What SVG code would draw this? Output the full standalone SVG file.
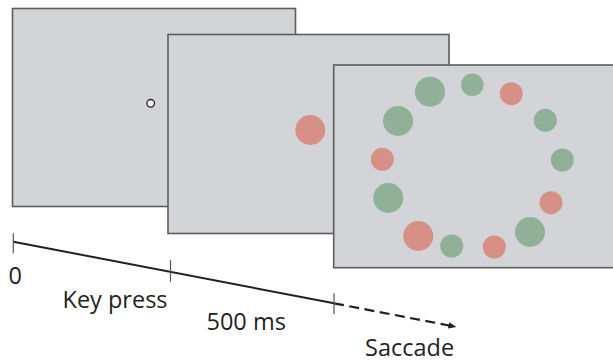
<svg xmlns="http://www.w3.org/2000/svg" width="613" height="362" viewBox="0 0 613 362">
<style>
.screen{fill:#d3d4d8;stroke:#5c5c5c;stroke-width:1.6}
.g{fill:#90b197}
.r{fill:#d79085}
.tick{stroke:#555;stroke-width:1.2;fill:none}
.lbl{font-family:"Open Sans","Liberation Sans",sans-serif;font-size:23.5px;fill:#231f20}
</style>
<defs>
<marker id="ah" markerWidth="8" markerHeight="8" refX="7" refY="4" orient="auto" markerUnits="userSpaceOnUse">
<path d="M0,0.8 L8,4 L0,7.2 Z" fill="#231f20"/>
</marker>
</defs>
<rect width="613" height="362" fill="#fff"/>
<g id="screen1">
<rect class="screen" x="12.5" y="8.5" width="283" height="198"/>
<circle cx="150.7" cy="103.3" r="3.8" fill="#fff" stroke="#231f20" stroke-width="1.3"/>
</g>
<g id="screen2">
<rect class="screen" x="168" y="34.5" width="281" height="199"/>
<circle class="r" cx="310.3" cy="130" r="15"/>
</g>
<g id="screen3">
<rect class="screen" x="333.7" y="65" width="290" height="202.7"/>
<circle class="g" cx="430" cy="91.7" r="15"/>
<circle class="g" cx="472.3" cy="84.7" r="11.3"/>
<circle class="r" cx="511.3" cy="93.7" r="11.5"/>
<circle class="g" cx="545.3" cy="120.3" r="11.5"/>
<circle class="g" cx="562.3" cy="160" r="11.5"/>
<circle class="r" cx="551" cy="202.7" r="11.5"/>
<circle class="g" cx="530" cy="232" r="15"/>
<circle class="r" cx="494.3" cy="247" r="11.5"/>
<circle class="g" cx="451.7" cy="246" r="11.5"/>
<circle class="r" cx="418.3" cy="236" r="15"/>
<circle class="g" cx="388.3" cy="198" r="15"/>
<circle class="r" cx="382.3" cy="159.3" r="11.5"/>
<circle class="g" cx="398" cy="121" r="15"/>
</g>
<g id="connectors">
<line x1="13.3" y1="241.7" x2="334" y2="303.3" stroke="#231f20" stroke-width="2"/>
<line x1="334" y1="303.3" x2="455.4" y2="326.7" stroke="#231f20" stroke-width="2.2" stroke-dasharray="10,5.5" marker-end="url(#ah)"/>
<line class="tick" x1="13.3" y1="233.3" x2="13.3" y2="253.3"/>
<line class="tick" x1="170.5" y1="260" x2="170.5" y2="281.7"/>
<line class="tick" x1="334" y1="293.3" x2="334" y2="314"/>
</g>
<g id="labels">
<text class="lbl" x="8.5" y="283.5">0</text>
<text class="lbl" x="62.5" y="307.5">Key press</text>
<text class="lbl" x="206.5" y="329.5">500 ms</text>
<text class="lbl" x="365" y="355.5">Saccade</text>
</g>
</svg>
